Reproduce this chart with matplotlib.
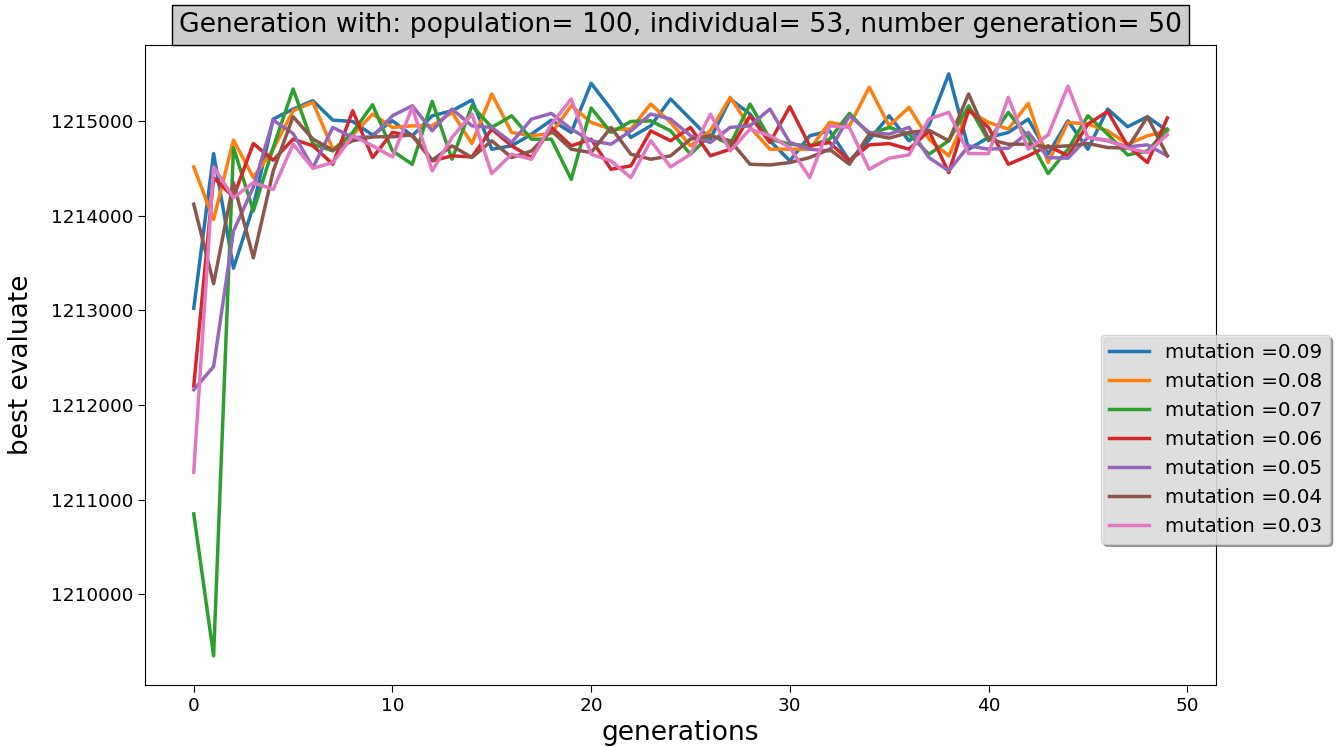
import numpy as np
import matplotlib
matplotlib.use('Agg')
import matplotlib.pyplot as plt

generations = list(range(50))

mut_009 = [1213020, 1214654, 1213443, 1214100, 1215018, 1215124, 1215212, 1215007, 1214993, 1214850,
           1215000, 1214842, 1215053, 1215106, 1215219, 1214700, 1214736, 1214859, 1215007, 1214877,
           1215396, 1215124, 1214824, 1214947, 1215230, 1215018, 1214806, 1215230, 1215071, 1214789,
           1214577, 1214842, 1214894, 1214577, 1214800, 1215053, 1214789, 1214950, 1215495, 1214700,
           1214824, 1214877, 1215018, 1214650, 1215000, 1214700, 1215124, 1214937, 1215043, 1214894]
mut_008 = [1214513, 1213959, 1214796, 1214400, 1214700, 1215106, 1215195, 1214700, 1214850, 1215071,
           1214930, 1214947, 1214947, 1215089, 1214760, 1215283, 1214877, 1214842, 1214866, 1215159,
           1214983, 1214912, 1214912, 1215177, 1214983, 1214736, 1214894, 1215248, 1214930, 1214700,
           1214700, 1214700, 1214983, 1214947, 1215354, 1214947, 1215142, 1214806, 1214630, 1215106,
           1214983, 1214912, 1215184, 1214560, 1214983, 1214965, 1214894, 1214753, 1214842, 1214894]
mut_007 = [1210850, 1209350, 1214718, 1214047, 1214718, 1215336, 1214753, 1214682, 1214877, 1215170,
           1214682, 1214541, 1215205, 1214594, 1215159, 1214930, 1215053, 1214806, 1214806, 1214382,
           1215135, 1214877, 1214993, 1215000, 1214894, 1214647, 1214850, 1214750, 1215177, 1214806,
           1214753, 1214736, 1214806, 1215078, 1214859, 1214930, 1214859, 1214647, 1214789, 1215159,
           1214789, 1215089, 1214824, 1214443, 1214700, 1215053, 1214859, 1214640, 1214682, 1214912]
mut_006 = [1212200, 1214400, 1214195, 1214760, 1214584, 1214806, 1214736, 1214541, 1215106, 1214612,
           1214877, 1214842, 1214577, 1214630, 1214619, 1214912, 1214736, 1214612, 1214930, 1214736,
           1214806, 1214488, 1214524, 1214894, 1214789, 1214930, 1214630, 1214700, 1215053, 1214771,
           1215149, 1214736, 1214771, 1214577, 1214746, 1214760, 1214700, 1214894, 1214453, 1215113,
           1214930, 1214541, 1214630, 1214736, 1214630, 1214965, 1215099, 1214736, 1214559, 1215029]
mut_005 = [1212160, 1212405, 1213835, 1214300, 1215007, 1214866, 1214506, 1214930, 1214824, 1214830,
           1215053, 1215159, 1214894, 1215124, 1214947, 1214930, 1214771, 1215018, 1215078, 1214912,
           1214789, 1214753, 1214894, 1215071, 1215018, 1214842, 1214771, 1214930, 1214947, 1215124,
           1214771, 1214700, 1214682, 1215053, 1214877, 1214859, 1214930, 1214612, 1214471, 1214736,
           1214700, 1214711, 1214877, 1214612, 1214605, 1214824, 1214789, 1214725, 1214746, 1214630]
mut_004 = [1214120, 1213280, 1214347, 1213553, 1214470, 1215043, 1214806, 1214690, 1214789, 1214831,
           1214831, 1214852, 1214584, 1214736, 1214612, 1214789, 1214612, 1214682, 1214894, 1214700,
           1214665, 1214930, 1214647, 1214594, 1214630, 1214806, 1214842, 1214789, 1214541, 1214534,
           1214559, 1214612, 1214700, 1214541, 1214859, 1214817, 1214877, 1214901, 1214789, 1215283,
           1214806, 1214753, 1214753, 1214722, 1214736, 1214760, 1214718, 1214711, 1215043, 1214630]
mut_003 = [1211290, 1214513, 1214188, 1214347, 1214276, 1214753, 1214499, 1214559, 1214842, 1214736,
           1214619, 1215142, 1214471, 1214824, 1215071, 1214443, 1214647, 1214594, 1214965, 1215230,
           1214647, 1214577, 1214400, 1214789, 1214513, 1214647, 1215071, 1214682, 1214912, 1214842,
           1214718, 1214400, 1214947, 1214930, 1214488, 1214605, 1214640, 1215018, 1215089, 1214654,
           1214654, 1215248, 1214700, 1214850, 1215366, 1214824, 1214796, 1214711, 1214665, 1214852]

series = [mut_009, mut_008, mut_007, mut_006, mut_005, mut_004, mut_003]
labels = ['mutation =0.09', 'mutation =0.08', 'mutation =0.07', 'mutation =0.06',
          'mutation =0.05', 'mutation =0.04', 'mutation =0.03']

fig = plt.figure(figsize=(13.37, 7.47), dpi=100)
ax = fig.add_axes([0.1085, 0.083, 0.801, 0.857])

for values, label in zip(series, labels):
    ax.plot(generations, values, linewidth=2.5, label=label)

ax.ticklabel_format(axis='y', style='plain', useOffset=False)
ax.tick_params(labelsize=13.3, length=5)
ax.set_xlabel('generations', fontsize=19)
ax.set_ylabel('best evaluate', fontsize=19, labelpad=12)
ax.set_title('Generation with: population= 100, individual= 53, number generation= 50',
             fontsize=19.2, pad=9,
             bbox=dict(facecolor='#cccccc', edgecolor='black', pad=5))

ax.legend(loc='upper left', bbox_to_anchor=(0.8235, 0.5515), bbox_transform=fig.transFigure,
          borderaxespad=0, fontsize=14.3, shadow=True, fancybox=True,
          facecolor='#eeeeee', framealpha=0.8)

fig.savefig('out.png', dpi=100)
